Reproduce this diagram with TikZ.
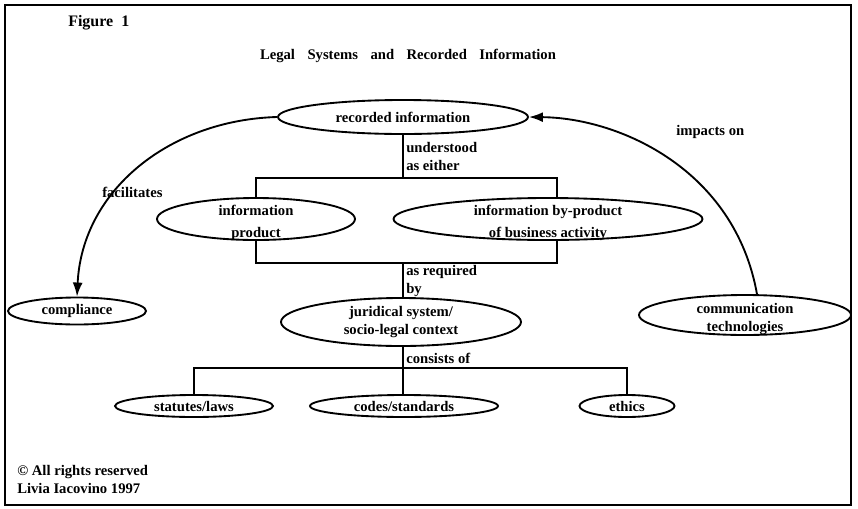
\documentclass[tikz,border=0pt]{standalone}
\usepackage{fontspec}
\setmainfont{Liberation Serif}
\usetikzlibrary{shapes.geometric,arrows.meta}

\newcommand{\lblfont}{\fontsize{11}{13.5}\selectfont\bfseries}
\newcommand{\tgap}{\hspace{0.85em}}
\newcommand{\dropline}{\rule{0pt}{13pt}}

\begin{document}
\begin{tikzpicture}[x=0.75pt,y=0.75pt,yscale=-1,xscale=1,
    oval/.style={draw,ellipse,line width=1.4pt,inner xsep=0pt,inner ysep=-4pt,font=\lblfont,align=center},
    link/.style={line width=1.4pt},
    tip/.style={line width=1.4pt,-{Latex[length=10.5pt,width=7.5pt]}}]
      \useasboundingbox (0,0) rectangle (858,508);

      %Shape: Frame
      \draw  [line width=1.6pt] (5,5) -- (851,5) -- (851,505) -- (5,505) -- cycle ;

      % Text Node
      \draw (68,23) node [anchor=west][inner sep=0pt] [font=\fontsize{12}{14}\selectfont\bfseries] (fig) {Figure\ \ 1};
      % Text Node
      \draw (408,56) node [inner sep=0pt] [font=\fontsize{11}{13}\selectfont\bfseries] (title) {Legal\tgap Systems\tgap and\tgap Recorded\tgap Information};

      %Shape: Ellipse
      \node [oval, minimum width=187.5pt, minimum height=25.5pt] (rec) at (403,117) {recorded information};
      %Shape: Ellipse
      \node [oval, minimum width=148.5pt, minimum height=31.5pt, inner ysep=-7pt] (prod) at (256,219) {\dropline information\\[3pt]product};
      %Shape: Ellipse
      \node [oval, minimum width=231.75pt, minimum height=31.5pt, inner ysep=-7pt] (byprod) at (548,219) {\dropline information by-product\\[3pt]of business activity};
      %Shape: Ellipse
      \node [oval, minimum width=180pt, minimum height=36pt] (jur) at (401,322) {juridical system/\\socio-legal context};
      %Shape: Ellipse
      \node [oval, minimum width=103.5pt, minimum height=20.25pt] (comp) at (77,311) {compliance};
      %Shape: Ellipse
      \node [oval, minimum width=159pt, minimum height=30pt, inner ysep=-7pt] (comm) at (745,315) {\dropline communication\\technologies};
      %Shape: Ellipse
      \node [oval, minimum width=118.5pt, minimum height=16.5pt] (laws) at (194,406) {statutes/laws};
      %Shape: Ellipse
      \node [oval, minimum width=141pt, minimum height=16.5pt] (codes) at (404,406) {codes/standards};
      %Shape: Ellipse
      \node [oval, minimum width=71.25pt, minimum height=16.5pt] (ethics) at (627,406) {ethics};

      %Bars
      \coordinate (upbar) at (403,178);
      \coordinate (upright) at (557,178);
      \coordinate (lowbar) at (403,263);
      \coordinate (lowright) at (557,263);
      \coordinate (tribar) at (403,368);

      \draw [link] (rec) -- (upbar);
      \draw [link] (prod.north) |- (upright) -- (upright |- byprod.north);
      \draw [link] (prod.south) |- (lowright) -- (lowright |- byprod.south);
      \draw [link] (lowbar) -- (lowbar |- jur.north);
      \draw [link] (tribar |- jur.south) -- (tribar);
      \draw [link] (laws.north) |- (tribar) -| (ethics.north);
      \draw [link] (tribar) -- (tribar |- codes.north);

      %Curves
      \draw [tip] (rec.west) .. controls (170,120) and (82,190) .. (comp.north);
      \draw [tip] (comm.60) .. controls (735,170) and (620,118) .. (rec.east);

      % Text Node
      \draw (406,156) node [anchor=west][inner sep=0pt] [font=\lblfont] [align=left] (under) {understood\\as either};
      % Text Node
      \draw (102,192) node [anchor=west][inner sep=0pt] [font=\lblfont] (facil) {facilitates};
      % Text Node
      \draw (676,132) node [anchor=west][inner sep=0pt] [font=\lblfont] (impact) {impacts on};
      % Text Node
      \draw (406,281) node [anchor=west][inner sep=0pt] [font=\lblfont] [align=left] (asreq) {as required\\by};
      % Text Node
      \draw (406,358) node [anchor=west][inner sep=0pt] [font=\lblfont] (consist) {consists of};
      % Text Node
      \draw (17,479) node [anchor=west][inner sep=0pt] [font=\lblfont] [align=left] (rights) {\textcopyright\ All rights reserved\\Livia Iacovino 1997};

    \end{tikzpicture}
\end{document}
